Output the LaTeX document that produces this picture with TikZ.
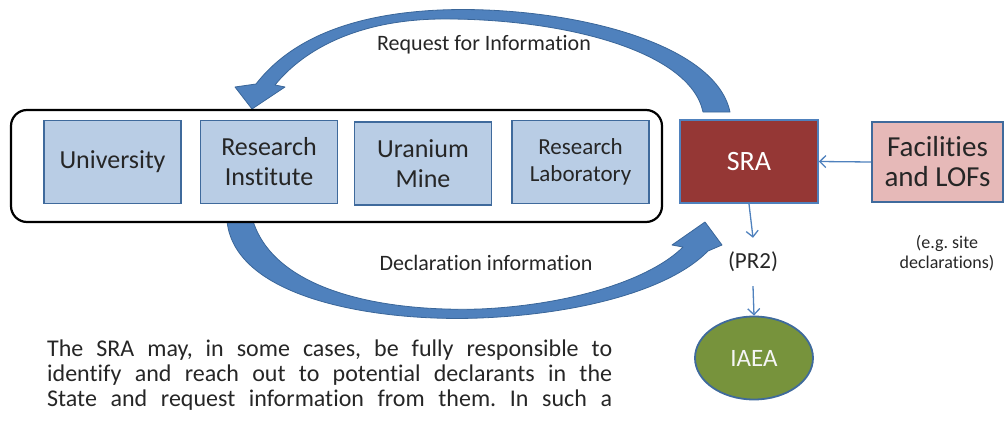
\documentclass[tikz,border=0pt]{standalone}
\usepackage{fontspec}
\setmainfont{Carlito}[Ligatures=NoCommon]
\usetikzlibrary{arrows.meta,shapes.geometric}
\definecolor{arrowblue}{HTML}{4F81BD}
\definecolor{arrowedge}{HTML}{3A6699}
\definecolor{boxfill}{HTML}{B9CDE5}
\definecolor{boxedge}{HTML}{3F6A9C}
\definecolor{srared}{HTML}{953735}
\definecolor{facpink}{HTML}{E6B9B8}
\definecolor{iaeagreen}{HTML}{77933C}
\definecolor{textdark}{HTML}{262626}
\frenchspacing
\begin{document}
\begin{tikzpicture}[x=1pt,y=-1pt,
  orgbox/.style={draw=boxedge, fill=boxfill, line width=1.8pt, minimum width=137pt, minimum height=83pt, align=center, text=textdark, font=\fontsize{26}{30}\selectfont, inner sep=0pt},
  thinarrow/.style={draw=arrowblue, line width=1.3pt, -{Straight Barb[length=6pt,width=12pt]}},
  bigarrow/.style={fill=arrowblue, draw=arrowedge, line width=0.8pt, line join=round},
  lbl/.style={font=\fontsize{22}{24}\selectfont, text=textdark}
]
\useasboundingbox (0,0) rectangle (1005,421);
% big curved arrows
\draw[bigarrow] (730,112) .. controls (715,40) and (560,5) .. (440,10)
  .. controls (350,14) and (290,40) .. (256,84) -- (235,87) -- (252,109) -- (285,87) -- (275,85)
  .. controls (305,48) and (360,20) .. (440,19)
  .. controls (560,18) and (690,50) .. (703,112) -- cycle;
\draw[bigarrow] (227,221) .. controls (235,300) and (380,322) .. (480,318)
  .. controls (580,314) and (670,290) .. (708,251) -- (722,245) -- (705,222) -- (672,245) -- (683,247)
  .. controls (650,280) and (570,305) .. (480,309)
  .. controls (380,312) and (275,290) .. (253,221) -- cycle;
% group frame
\node[draw=black, line width=2.2pt, rounded corners=16pt, fill=white, minimum width=651pt, minimum height=112pt, inner sep=0pt] (grp) at (336.5,166) {};
\node[orgbox] (uni) at (112.5,162) {University};
\node[orgbox] (ri) at (269,162) {Research\\Institute};
\node[orgbox] (um) at (423,163.5) {Uranium\\Mine};
\node[orgbox, font=\fontsize{23}{27}\selectfont] (rl) at (580.5,162) {Research\\Laboratory};
% right side
\node[draw=arrowblue, fill=srared, line width=1.8pt, minimum width=138pt, minimum height=83pt, text=white, font=\fontsize{28}{30}\selectfont] (sra) at (749,161.5) {SRA};
\node[draw=boxedge, fill=facpink, line width=1.8pt, minimum width=131pt, minimum height=80pt, align=center, text=textdark, font=\fontsize{29}{30}\selectfont, inner sep=0pt] (fac) at (937.5,162) {Facilities\\and LOFs};
\node[font=\fontsize{18}{20}\selectfont, align=center, text=textdark] (eg) at (947,253) {(e.g. site\\declarations)};
\node[font=\fontsize{23}{24}\selectfont, text=textdark, inner xsep=2pt, inner ysep=14pt] (pr2) at (753,262) {(PR2)};
\node[ellipse, draw=boxedge, fill=iaeagreen, line width=1.8pt, minimum width=118pt, minimum height=83pt, text=white!92!gray, font=\fontsize{25}{27}\selectfont] (iaea) at (754,358) {IAEA};
% connectors
\draw[thinarrow] (fac.west) -- (sra.east);
\draw[thinarrow] (sra.south) -- (pr2.north);
\draw[thinarrow] (pr2.south) -- (iaea.north);
% labels
\node[lbl] (req) at (484,45) {Request for Information};
\node[lbl] (decl) at (486,263) {Declaration information};
% paragraph
\node[anchor=north west, inner sep=0pt, font=\fontsize{24}{25}\selectfont, align=left, text=textdark] (para) at (47,340) {%
\makebox[565pt][s]{The SRA may, in some cases, be fully responsible to}\\
\makebox[565pt][s]{identify and reach out to potential declarants in the}\\
\makebox[565pt][s]{State and request information from them. In such a}};
\end{tikzpicture}
\end{document}
